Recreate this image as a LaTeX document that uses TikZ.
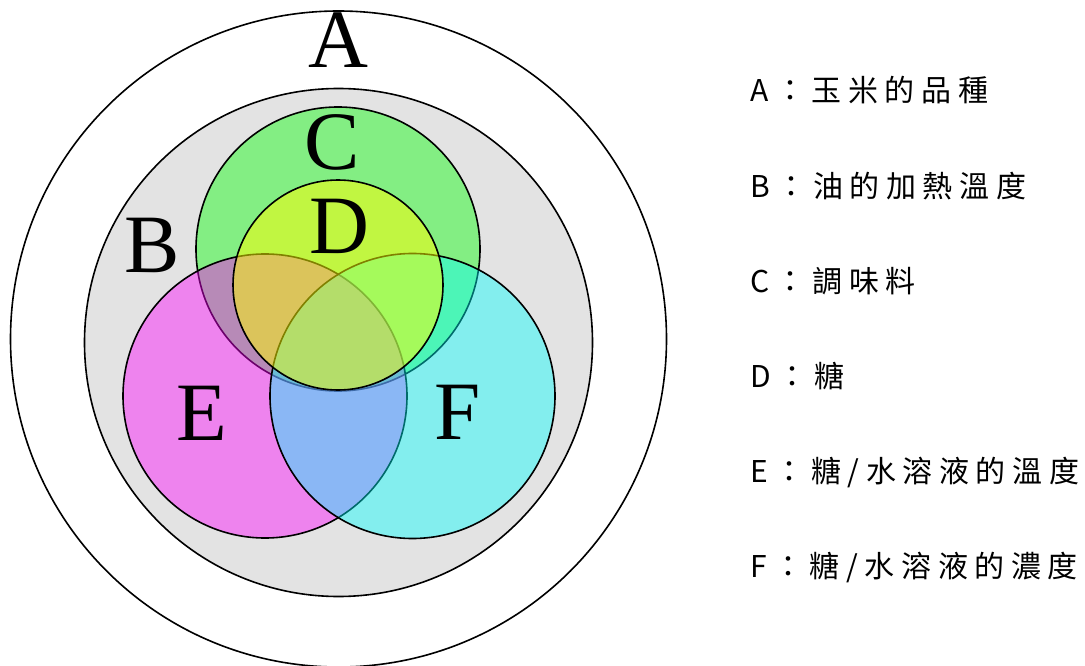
\documentclass[tikz,border=0pt]{standalone}
\usepackage{fontspec}
\newfontfamily\cjk[LetterSpace=22]{Noto Sans CJK TC}
\newfontfamily\tnr{Liberation Serif}
\definecolor{vgreen}{RGB}{0,255,0}
\definecolor{vmag}{RGB}{255,0,255}
\definecolor{vcyan}{RGB}{0,255,255}
\definecolor{vyellow}{RGB}{255,255,0}
\begin{document}
\begin{tikzpicture}[x=1pt,y=-1pt,
  ring/.style={draw=black,line width=1.6pt},
  venn/.style={draw=black,line width=1.6pt,fill opacity=0.42},
  biglet/.style={font=\tnr\fontsize{83}{83}\selectfont,anchor=base,inner sep=0pt},
  legend/.style={font=\cjk\fontsize{30}{30}\selectfont,anchor=base west,inner sep=0pt}]
\useasboundingbox (0,0) rectangle (1085,666);
% outer circle A
\draw[ring] (338.5,339) circle[radius=328];
% circle B
\draw[ring,fill=black!11] (338.5,342.5) circle[radius=254];
% C, E, F, D
\draw[venn,fill=vgreen] (338,249) circle[radius=142];
\draw[venn,fill=vmag] (265,396) circle[radius=142];
\draw[venn,fill=vcyan] (412.5,396) circle[radius=142.5];
\draw[venn,fill=vyellow,fill opacity=0.5] (338,285) circle[radius=105];
% letters
\node[biglet] (lA) at (338,68) {A};
\node[biglet] (lB) at (152,272) {B};
\node[biglet] (lC) at (332,170) {C};
\node[biglet] (lD) at (339,253) {D};
\node[biglet] (lE) at (202,440) {E};
\node[biglet] (lF) at (458,439) {F};
% legend
\node[legend] (gA) at (750,102) {A：玉米的品種};
\node[legend] (gB) at (750,197) {B：油的加熱溫度};
\node[legend] (gC) at (750,292) {C：調味料};
\node[legend] (gD) at (750,387) {D：糖};
\node[legend] (gE) at (750,482) {E：糖/水溶液的溫度};
\node[legend] (gF) at (750,577) {F：糖/水溶液的濃度};
\end{tikzpicture}
\end{document}
